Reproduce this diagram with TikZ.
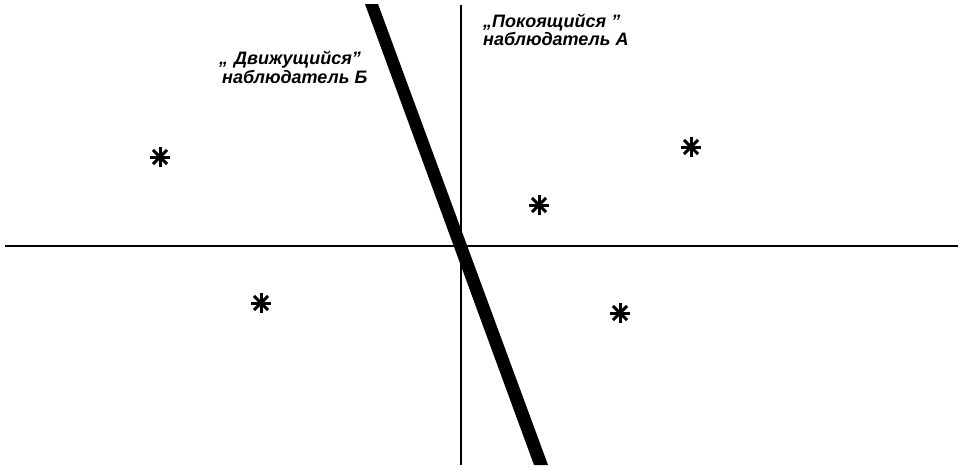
\documentclass[tikz,border=0pt]{standalone}
\usepackage{fontspec}
\setmainfont{Liberation Sans}
\begin{document}
\begin{tikzpicture}[x=1pt,y=-1pt,
  axis/.style={line width=2pt},
  worldline/.style={fill=black,draw=none},
  lbl/.style={font=\fontsize{18}{16}\selectfont\bfseries\itshape,align=left,anchor=base west,inner sep=0pt},
  starmark/.pic={\foreach \a in {0,45,90,135}{\draw[line width=3pt] (\a:10) -- (\a+180:10);}}
]
\useasboundingbox (0,0) rectangle (961,469);
\coordinate (vt) at (461,5);
\coordinate (vb) at (461,465);
\coordinate (hl) at (5,246);
\coordinate (hr) at (958,246);
\coordinate (mtl) at (365,4);
\coordinate (mtr) at (378,4);
\coordinate (mbr) at (548,465);
\coordinate (mbl) at (534,465);
\draw[axis] (vt) -- (vb);
\draw[axis] (hl) -- (hr);
\fill[worldline] (mtl) -- (mtr) -- (mbr) -- (mbl) -- cycle;
\node[lbl] (labB) at (219,83) {„\,\,Движущийся”\\[1pt]\,наблюдатель Б};
\node[lbl] (labA) at (483,45) {„Покоящийся ”\\наблюдатель А};
\coordinate (s1) at (160,157);
\coordinate (s2) at (261,303);
\coordinate (s3) at (539,205);
\coordinate (s4) at (691,147);
\coordinate (s5) at (620,313);
\foreach \s in {s1,s2,s3,s4,s5}{\pic at (\s) {starmark};}
\end{tikzpicture}
\end{document}
